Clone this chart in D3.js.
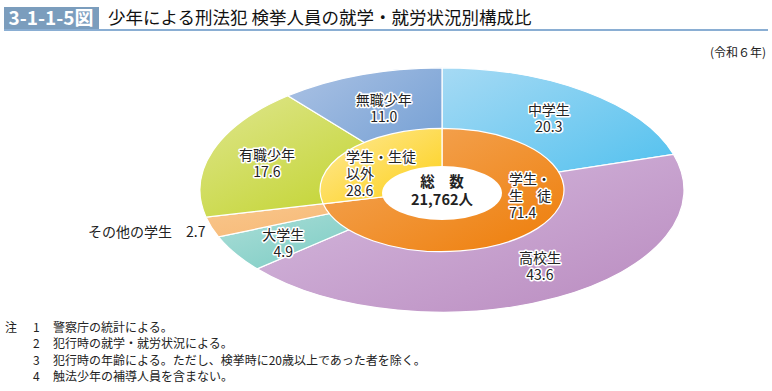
<!DOCTYPE html>
<html><head><meta charset="utf-8">
<script src="https://cdn.jsdelivr.net/npm/d3@7"></script>
<style>
body{margin:0;background:#fff;}
text{font-family:"Noto Sans CJK JP","Noto Sans",sans-serif;}
</style></head>
<body><svg id="c" width="772" height="391"></svg>
<script>
const outerCats = ["中学生","高校生","大学生","その他の学生","有職少年","無職少年"];
const outerValues = [20.3, 43.6, 4.9, 2.7, 17.6, 11.0];
const innerCats = ["学生・生徒","学生・生徒以外"];
const innerValues = [71.4, 28.6];
const totalLabel = "21,762人";
const notes = ["警察庁の統計による。","犯行時の就学・就労状況による。","犯行時の年齢による。ただし、検挙時に20歳以上であった者を除く。","触法少年の補導人員を含まない。"];

const outerColors = [["#a6daf4","#4cbfee"],["#d7bde0","#b98abf"],["#b6e2dc","#6cc6bd"],["#f9ca92","#f6b36c"],["#dfe68e","#bcd01c"],["#abc2e4","#6a99d1"]];
const innerColors = [["#f4aa60","#ee7d08"],["#feea9c","#fdcf12"]];

const svg = d3.select("#c");
const defs = svg.append("defs");
function grad(id, c){
  const g = defs.append("linearGradient").attr("id",id).attr("x1",0).attr("y1",0).attr("x2",1).attr("y2",1);
  g.append("stop").attr("offset","0%").attr("stop-color",c[0]);
  g.append("stop").attr("offset","100%").attr("stop-color",c[1]);
}
outerColors.forEach((c,i)=>grad("go"+i,c));
innerColors.forEach((c,i)=>grad("gi"+i,c));

// Title
svg.append("rect").attr("x",4).attr("y",7).attr("width",95).attr("height",22).attr("fill","#7b9dbd");
svg.append("text").attr("x",51).attr("y",25).attr("text-anchor","middle").attr("fill","#fff")
  .attr("font-weight","bold").attr("font-size",19).text("3-1-1-5図");
svg.append("text").attr("x",108).attr("y",24).attr("font-size",17.5).attr("fill","#111")
  .text("少年による刑法犯 検挙人員の就学・就労状況別構成比");
svg.append("line").attr("x1",4).attr("x2",768).attr("y1",30).attr("y2",30).attr("stroke","#8aaed3").attr("stroke-width",2);
svg.append("text").attr("x",766).attr("y",57).attr("text-anchor","end").attr("font-size",12).attr("fill","#222").text("(令和６年)");

const cx = 442, cy = 190, sy = 0.505;
const pie = d3.pie().sort(null).value(d=>d);
const outerArcs = pie(outerValues);
const innerArcs = pie(innerValues);
const R = 242, Ri = 122;
const arcO = d3.arc().innerRadius(0).outerRadius(R);
const arcI = d3.arc().innerRadius(0).outerRadius(Ri);

const g = svg.append("g").attr("transform",`translate(${cx},${cy}) scale(1,${sy})`);
g.selectAll("path.o").data(outerArcs).enter().append("path").attr("class","o")
  .attr("d",arcO).attr("fill",(d,i)=>`url(#go${i})`)
  .attr("stroke","#fff").attr("stroke-width",1.2).attr("vector-effect","non-scaling-stroke");
g.selectAll("path.i").data(innerArcs).enter().append("path").attr("class","i")
  .attr("d",arcI).attr("fill",(d,i)=>`url(#gi${i})`)
  .attr("stroke","#fff").attr("stroke-width",1.2).attr("vector-effect","non-scaling-stroke");
svg.append("ellipse").attr("cx",cx).attr("cy",cy+3).attr("rx",60).attr("ry",27).attr("fill","#fff");

function lbl(x,y,lines,opts={}){
  const t = svg.append("text").attr("x",x).attr("y",y).attr("font-size",opts.fs||14)
    .attr("text-anchor",opts.anchor||"middle").attr("fill","#222")
    .attr("font-weight",opts.bold?"bold":"normal");
  if(opts.halo!==false) t.attr("stroke","#fff").attr("stroke-width",3).attr("stroke-linejoin","round").attr("paint-order","stroke");
  lines.forEach((l,i)=>t.append("tspan").attr("x",x).attr("dy",i?(opts.lh||17):0).text(l));
  return t;
}
function pos(d, r){
  const a = (d.startAngle+d.endAngle)/2;
  return [cx + r*Math.sin(a), cy - r*Math.cos(a)*sy];
}
const fmt = v=>v.toFixed(1);
// outer labels
const outerLabelR = [178, 190, 186, null, 186, 175];
const outerLabelDx = [1, 7, 0, 0, 1, 1];
const outerLabelDy = [0, -8, 4, 0, 3, 1];
outerArcs.forEach((d,i)=>{
  if(outerLabelR[i]===null) return;
  const [x,y] = pos(d, outerLabelR[i]);
  lbl(x + outerLabelDx[i], y - 3 + outerLabelDy[i], [outerCats[i], fmt(outerValues[i])]);
});
// その他の学生 outside label
lbl(88, 237, [outerCats[3] + "　" + fmt(outerValues[3])], {anchor:"start", halo:false});
// inner labels
lbl(509, 184, ["学生・","生　徒", fmt(innerValues[0])], {anchor:"start", lh:17});
lbl(346, 162, ["学生・生徒","以外", fmt(innerValues[1])], {anchor:"start", lh:17});
// center
lbl(cx, 187, ["総　数", totalLabel], {bold:true, fs:14.5, lh:18, halo:false});

// notes
const nt = svg.append("g").attr("font-size",12).attr("fill","#222");
nt.append("text").attr("x",5).attr("y",332).text("注");
notes.forEach((n,i)=>{
  nt.append("text").attr("x",33).attr("y",332+i*16.3).text(String(i+1));
  nt.append("text").attr("x",53).attr("y",332+i*16.3).text(n);
});
</script></body></html>
